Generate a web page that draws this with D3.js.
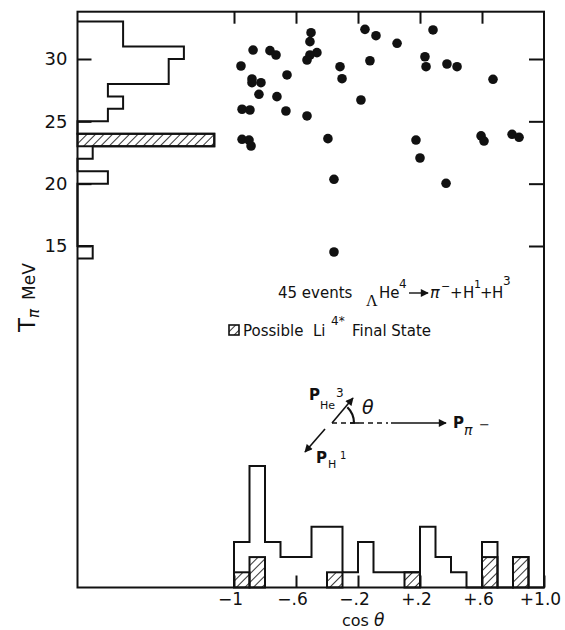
<!DOCTYPE html>
<html>
<head>
<meta charset="utf-8">
<script src="https://cdn.jsdelivr.net/npm/d3@7/dist/d3.min.js"></script>
<style>
  body { margin: 0; background: #fff; }
  text { font-family: "DejaVu Sans", sans-serif; fill: #111; }
</style>
</head>
<body>
<div id="chart"></div>
<script>
// T_pi histogram (1 MeV bins, lower edge) - all events and the hatched Li4* ones
var tBins    = [14, 15, 16, 17, 18, 19, 20, 21, 22, 23, 24, 25, 26, 27, 28, 29, 30, 31, 32];
var tCounts  = [ 1,  0,  0,  0,  0,  0,  2,  0,  1,  9,  0,  2,  3,  2,  6,  6,  7,  3,  3];
var tHatched = [ 0,  0,  0,  0,  0,  0,  0,  0,  0,  9,  0,  0,  0,  0,  0,  0,  0,  0,  0];

// cos theta histogram (0.1 bins, lower edge)
var cBins    = [-1.0, -0.9, -0.8, -0.7, -0.6, -0.5, -0.4, -0.3, -0.2, -0.1, 0.0, 0.1, 0.2, 0.3, 0.4, 0.5, 0.6, 0.7, 0.8, 0.9];
var cCounts  = [   3,    8,    3,    2,    2,    4,    4,    1,    3,    1,   1,   1,   4,   2,   1,   0,   3,   0,   2,   0];
var cHatched = [   1,    2,    0,    0,    0,    0,    1,    0,    0,    0,   0,   1,   0,   0,   0,   0,   2,   0,   2,   0];

// the 45 events
var cosTheta = [-0.155, -0.084, 0.284, 0.052, -0.503, -0.510, -0.877, -0.768, -0.729, -0.465,
                -0.510, -0.529, -0.955, -0.316, -0.123, 0.232, 0.239, 0.374, 0.439, -0.658,
                -0.884, -0.884, -0.826, -0.303, 0.671, -0.839, -0.723, -0.181, -0.948, -0.897,
                -0.665, -0.529, -0.948, -0.903, -0.890, -0.394, 0.174, 0.200, 0.594, 0.613,
                0.794, 0.839, -0.355, 0.368, -0.355];
var tPi = [32.38, 31.87, 32.33, 31.26, 32.11, 31.39, 30.72, 30.67, 30.32, 30.51,
           30.32, 29.92, 29.44, 29.38, 29.86, 30.18, 29.38, 29.60, 29.38, 28.72,
           28.40, 28.10, 28.10, 28.42, 28.37, 27.17, 26.98, 26.71, 25.97, 25.91,
           25.83, 25.43, 23.56, 23.50, 23.02, 23.61, 23.50, 22.06, 23.83, 23.42,
           23.96, 23.72, 20.35, 20.03, 14.52];

// axis ticks
var xTicks = [-1, -0.6, -0.2, 0.2, 0.6, 1.0];
var xTickLabels = ["\u22121", "\u2212.6", "\u2212.2", "+.2", "+.6", "+1.0"];
var yTicks = [15, 20, 25, 30];

var width = 565, height = 630;
// plot frame (named so as not to clash with window.top)
var fLeft = 77.5, fRight = 544, fTop = 11.7, fBottom = 587.5;
var ink = "#111";

var svg = d3.select("#chart")
  .append("svg")
  .attr("width", width)
  .attr("height", height);

var defs = svg.append("defs");
var hatch = defs.append("pattern")
  .attr("id", "hatch")
  .attr("patternUnits", "userSpaceOnUse")
  .attr("width", 6).attr("height", 6)
  .attr("patternTransform", "rotate(45)");
hatch.append("line")
  .attr("x1", 0).attr("y1", 0).attr("x2", 0).attr("y2", 6)
  .attr("stroke", ink).attr("stroke-width", 1.7);

defs.append("marker")
  .attr("id", "head")
  .attr("viewBox", "0 0 10 10")
  .attr("refX", 9).attr("refY", 5)
  .attr("markerUnits", "userSpaceOnUse")
  .attr("markerWidth", 9).attr("markerHeight", 8)
  .attr("orient", "auto")
  .append("path")
  .attr("d", "M0,0 L10,5 L0,10 Z")
  .attr("fill", ink);

// scales
var x = d3.scaleLinear().domain([-1, 1]).range([234, fRight]);
var y = d3.scaleLinear().domain([15, 30]).range([246, 59]);
var hx = d3.scaleLinear().domain([0, 10]).range([fLeft, fLeft + 152]);     // counts, left histogram
var hy = d3.scaleLinear().domain([0, 10]).range([fBottom, fBottom - 152]); // counts, bottom histogram

var line = d3.line();

// ---- left histogram (T_pi)
var tPts = [[hx(0), y(tBins[0])]];
tBins.forEach(function (lo, i) {
  tPts.push([hx(tCounts[i]), y(lo)]);
  tPts.push([hx(tCounts[i]), y(lo + 1)]);
});
tPts.push([hx(0), y(tBins[tBins.length - 1] + 1)]);

svg.selectAll("tHatch")
  .data(tBins.map(function (lo, i) { return { lo: lo, n: tHatched[i] }; })
    .filter(function (d) { return d.n > 0; }))
  .enter()
  .append("rect")
  .attr("x", hx(0))
  .attr("y", function (d) { return y(d.lo + 1); })
  .attr("width", function (d) { return hx(d.n) - hx(0); })
  .attr("height", function (d) { return y(d.lo) - y(d.lo + 1); })
  .attr("fill", "url(#hatch)")
  .attr("stroke", ink)
  .attr("stroke-width", 2);

svg.append("path")
  .attr("d", line(tPts))
  .attr("fill", "none")
  .attr("stroke", ink)
  .attr("stroke-width", 2);

// ---- bottom histogram (cos theta)
var cw = 0.1;
var cPts = [[x(cBins[0]), hy(0)]];
cBins.forEach(function (lo, i) {
  cPts.push([x(lo), hy(cCounts[i])]);
  cPts.push([x(lo + cw), hy(cCounts[i])]);
});
cPts.push([x(cBins[cBins.length - 1] + cw), hy(0)]);

svg.selectAll("cHatch")
  .data(cBins.map(function (lo, i) { return { lo: lo, n: cHatched[i] }; })
    .filter(function (d) { return d.n > 0; }))
  .enter()
  .append("rect")
  .attr("x", function (d) { return x(d.lo); })
  .attr("y", function (d) { return hy(d.n); })
  .attr("width", function (d) { return x(d.lo + cw) - x(d.lo); })
  .attr("height", function (d) { return hy(0) - hy(d.n); })
  .attr("fill", "url(#hatch)")
  .attr("stroke", ink)
  .attr("stroke-width", 2);

svg.append("path")
  .attr("d", line(cPts))
  .attr("fill", "none")
  .attr("stroke", ink)
  .attr("stroke-width", 2);

// ---- frame and ticks
svg.append("rect")
  .attr("x", fLeft).attr("y", fTop)
  .attr("width", fRight - fLeft).attr("height", fBottom - fTop)
  .attr("fill", "none")
  .attr("stroke", ink)
  .attr("stroke-width", 2);

function styleAxis(g) {
  g.select(".domain").remove();
  g.selectAll(".tick line").attr("stroke", ink).attr("stroke-width", 2);
  g.selectAll(".tick text").attr("fill", ink).style("font-family", "DejaVu Sans").style("font-size", "18px");
}

svg.append("g")
  .attr("transform", "translate(0," + fTop + ")")
  .call(d3.axisBottom(x).tickValues(xTicks.slice(0, 5)).tickSizeInner(12).tickSizeOuter(0).tickFormat(""))
  .call(styleAxis);

svg.append("g")
  .attr("transform", "translate(0," + fBottom + ")")
  .call(d3.axisBottom(x).tickValues(xTicks).tickSizeInner(-12).tickSizeOuter(0).tickPadding(5)
    .tickFormat(function (d, i) { return xTickLabels[i]; }))
  .call(styleAxis)
  .call(function (g) { g.selectAll(".tick text").attr("dx", -4).style("font-size", "17px"); });

svg.append("g")
  .attr("transform", "translate(" + fLeft + ",0)")
  .call(d3.axisLeft(y).tickValues(yTicks).tickSizeInner(-14).tickSizeOuter(0).tickPadding(10))
  .call(styleAxis);

svg.append("g")
  .attr("transform", "translate(" + fRight + ",0)")
  .call(d3.axisRight(y).tickValues(yTicks).tickSizeInner(-15).tickSizeOuter(0).tickFormat(""))
  .call(styleAxis);

// ---- events
svg.selectAll("dots")
  .data(cosTheta)
  .enter()
  .append("circle")
  .attr("cx", function (d) { return x(d); })
  .attr("cy", function (d, i) { return y(tPi[i]); })
  .attr("r", 4.8)
  .attr("fill", ink);

// ---- axis titles
var yTitle = svg.append("text")
  .attr("transform", "translate(35,332) rotate(-90)");
yTitle.append("tspan").style("font-size", "23px").text("T");
yTitle.append("tspan").style("font-size", "15px").attr("dy", 4).style("font-style", "italic").text("\u03c0");
yTitle.append("tspan").style("font-size", "17px").attr("dy", -4).attr("dx", 9).text("MeV");

var xTitle = svg.append("text")
  .attr("x", 342).attr("y", 626);
xTitle.append("tspan").style("font-size", "16px").text("cos ");
xTitle.append("tspan").style("font-size", "17px").style("font-style", "italic").text("\u03b8");

// ---- annotation text
function put(px, py, str, size, extra) {
  var t = svg.append("text").attr("x", px).attr("y", py).style("font-size", size + "px").text(str);
  if (extra) extra(t);
  return t;
}

put(366, 306, "\u039b", 16, function (t) { t.style("font-family", "Liberation Serif"); });
put(278, 298, "45 events", 15);
put(379, 298, "He", 15);
put(399, 288, "4", 12);
svg.append("line")
  .attr("x1", 409).attr("y1", 293).attr("x2", 428).attr("y2", 293)
  .attr("stroke", ink).attr("stroke-width", 1.4)
  .attr("marker-end", "url(#head)");
put(430, 298, "\u03c0", 16, function (t) { t.style("font-style", "italic"); });
put(441, 290, "\u2212", 11);
put(450, 298, "+", 15);
put(463, 298, "H", 15);
put(474, 288, "1", 11);
put(480, 298, "+", 15);
put(492, 298, "H", 15);
put(503, 285, "3", 12);

svg.append("rect")
  .attr("x", 229).attr("y", 325).attr("width", 10).attr("height", 10)
  .attr("fill", "url(#hatch)")
  .attr("stroke", ink).attr("stroke-width", 1.6);
put(243, 336, "Possible", 15);
put(313, 336, "Li", 15);
put(331, 325, "4*", 12);
put(352, 336, "Final State", 15);

// ---- momentum diagram
var ox = 332, oy = 423;
svg.append("line")
  .attr("x1", ox).attr("y1", oy).attr("x2", 353).attr("y2", 398)
  .attr("stroke", ink).attr("stroke-width", 1.6)
  .attr("marker-end", "url(#head)");
svg.append("line")
  .attr("x1", 325).attr("y1", 429).attr("x2", 305).attr("y2", 452)
  .attr("stroke", ink).attr("stroke-width", 1.6)
  .attr("marker-end", "url(#head)");
svg.append("line")
  .attr("x1", ox).attr("y1", oy).attr("x2", 388).attr("y2", oy)
  .attr("stroke", ink).attr("stroke-width", 1.4)
  .attr("stroke-dasharray", "5,4");
svg.append("line")
  .attr("x1", 391).attr("y1", oy).attr("x2", 446).attr("y2", oy)
  .attr("stroke", ink).attr("stroke-width", 1.4)
  .attr("marker-end", "url(#head)");
var arc = d3.arc()
  .innerRadius(22).outerRadius(22)
  .startAngle(Math.PI / 2).endAngle(Math.PI / 2 - 0.8);
svg.append("path")
  .attr("transform", "translate(" + ox + "," + oy + ")")
  .attr("d", arc())
  .attr("fill", "none")
  .attr("stroke", ink).attr("stroke-width", 2.2);
svg.append("line")
  .attr("x1", 350).attr("y1", oy).attr("x2", 359).attr("y2", oy)
  .attr("stroke", ink).attr("stroke-width", 1.6);
put(362, 414, "\u03b8", 19, function (t) { t.style("font-style", "italic"); });

put(309, 400, "P", 15, function (t) { t.style("font-weight", "bold"); });
put(320, 409, "He", 11);
put(336, 397, "3", 12);

put(453, 428, "P", 15, function (t) { t.style("font-weight", "bold"); });
put(464, 435, "\u03c0", 14, function (t) { t.style("font-style", "italic"); });
put(479, 429, "\u2212", 13);

put(316, 463, "P", 15, function (t) { t.style("font-weight", "bold"); });
put(328, 468, "H", 11);
put(340, 459, "1", 10);
</script>
</body>
</html>
